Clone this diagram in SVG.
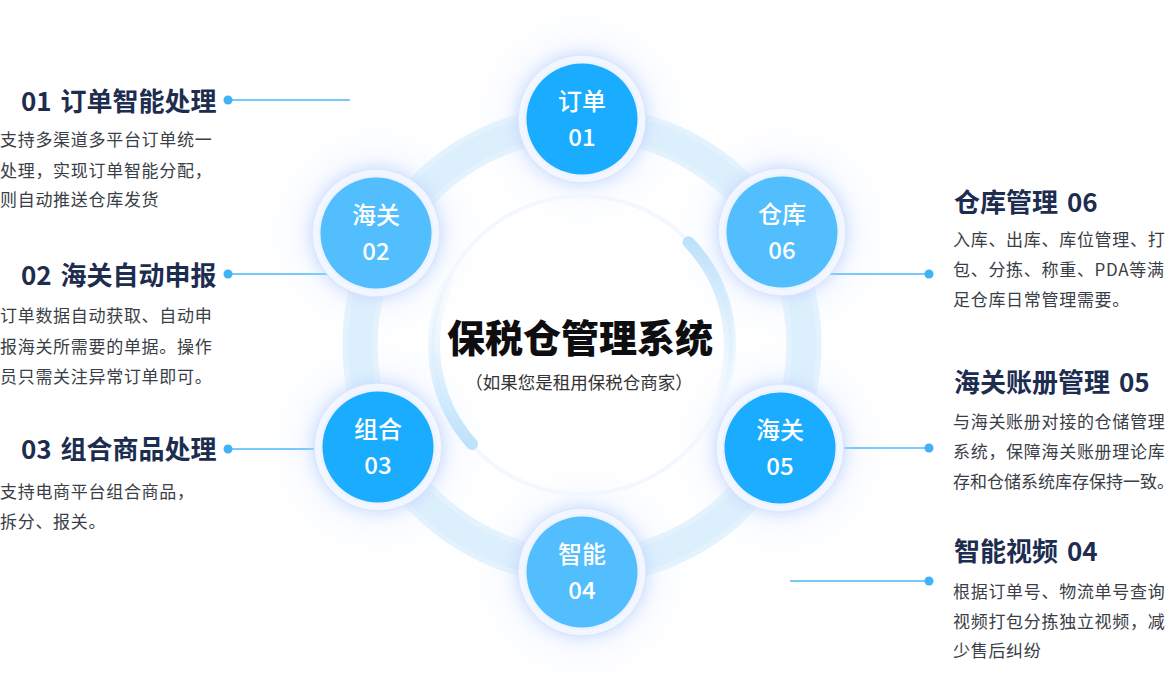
<svg xmlns="http://www.w3.org/2000/svg" width="1175" height="692" viewBox="0 0 1175 692">
<defs>
<style>
text{font-family:"Noto Sans CJK SC","Noto Sans",sans-serif;}
.ttl{font-size:26px;font-weight:700;fill:#1D2D4F;word-spacing:3px;}
.desc{font-size:17px;fill:#3A3E46;letter-spacing:0.7px;}
.nl{font-size:24px;fill:#FFFFFF;text-anchor:middle;font-weight:500;}
.dark{fill:#1AACFF;}
.light{fill:#52BEFE;}
.halo-ring{fill:#F2F6FF;stroke:#D9E3FB;stroke-width:1;}
.shadow{fill:#B7CFFF;filter:url(#blur);}
.lead{stroke:#4DB9F8;stroke-width:1.6;fill:none;}
.dot{fill:#3FB3F6;}
</style>
<filter id="blur" x="-50%" y="-50%" width="200%" height="200%"><feGaussianBlur stdDeviation="9"/></filter>
<radialGradient id="halo">
<stop offset="0" stop-color="#E6F0FF" stop-opacity="0.9"/>
<stop offset="0.55" stop-color="#EEF4FF" stop-opacity="0.55"/>
<stop offset="1" stop-color="#FFFFFF" stop-opacity="0"/>
</radialGradient>
<radialGradient id="innerband">
<stop offset="0.82" stop-color="#DCE7FE"/>
<stop offset="1" stop-color="#EEF3FF"/>
</radialGradient>
<linearGradient id="arcR" gradientUnits="userSpaceOnUse" x1="0" y1="242" x2="0" y2="410">
<stop offset="0" stop-color="#BDE2FB"/>
<stop offset="1" stop-color="#DDEFFD" stop-opacity="0.1"/>
</linearGradient>
<linearGradient id="arcL" gradientUnits="userSpaceOnUse" x1="0" y1="444" x2="0" y2="280">
<stop offset="0" stop-color="#BDE2FB"/>
<stop offset="1" stop-color="#DDEFFD" stop-opacity="0.1"/>
</linearGradient>
</defs>
<rect width="1175" height="692" fill="#FFFFFF"/>

<g id="background">
<circle cx="582" cy="119" r="125" fill="url(#halo)"/>
<circle cx="376" cy="232" r="125" fill="url(#halo)"/>
<circle cx="782" cy="232" r="125" fill="url(#halo)"/>
<circle cx="378" cy="447" r="125" fill="url(#halo)"/>
<circle cx="780" cy="448" r="125" fill="url(#halo)"/>
<circle cx="582" cy="572" r="125" fill="url(#halo)"/>
<circle cx="582" cy="345" r="222" fill="none" stroke="#E3F2FD" stroke-width="35"/>
<circle cx="582" cy="345" r="222" fill="none" stroke="#DCEFFC" stroke-width="24"/>
<circle cx="582" cy="345" r="149" fill="none" stroke="#F2F8FE" stroke-width="4"/>
<path d="M688.5 242.2 A148 148 0 0 1 716.1 407.5" fill="none" stroke="url(#arcR)" stroke-width="12" stroke-linecap="round"/>
<path d="M472 444 A148 148 0 0 1 447.9 282.5" fill="none" stroke="url(#arcL)" stroke-width="12" stroke-linecap="round"/>
</g>

<g id="connectors">
<line class="lead" x1="228" y1="100" x2="350" y2="100"/>
<circle class="dot" cx="228" cy="100" r="4.5"/>
<line class="lead" x1="228" y1="274" x2="332" y2="274"/>
<circle class="dot" cx="228" cy="274" r="4.5"/>
<line class="lead" x1="228" y1="449" x2="330" y2="449"/>
<circle class="dot" cx="228" cy="449" r="4.5"/>
<line class="lead" x1="826" y1="274" x2="929" y2="274"/>
<circle class="dot" cx="929" cy="274" r="4.5"/>
<line class="lead" x1="836" y1="448" x2="929" y2="448"/>
<circle class="dot" cx="929" cy="448" r="4.5"/>
<line class="lead" x1="790" y1="581" x2="929" y2="581"/>
<circle class="dot" cx="929" cy="581" r="4.5"/>
</g>

<g id="node-01" transform="translate(582,119)">
<circle class="shadow" r="62"/>
<circle class="halo-ring" r="64"/>
<circle r="58" fill="url(#innerband)"/>
<circle class="dark" r="55.5"/>
<text class="nl" y="-9">订单</text>
<text class="nl" y="27">01</text>
</g>
<g id="node-02" transform="translate(376,233)">
<circle class="shadow" r="62"/>
<circle class="halo-ring" r="64"/>
<circle r="58" fill="url(#innerband)"/>
<circle class="light" r="55.5"/>
<text class="nl" y="-9">海关</text>
<text class="nl" y="27">02</text>
</g>
<g id="node-06" transform="translate(782,232)">
<circle class="shadow" r="62"/>
<circle class="halo-ring" r="64"/>
<circle r="58" fill="url(#innerband)"/>
<circle class="light" r="55.5"/>
<text class="nl" y="-9">仓库</text>
<text class="nl" y="27">06</text>
</g>
<g id="node-03" transform="translate(378,447)">
<circle class="shadow" r="62"/>
<circle class="halo-ring" r="64"/>
<circle r="58" fill="url(#innerband)"/>
<circle class="dark" r="55.5"/>
<text class="nl" y="-9">组合</text>
<text class="nl" y="27">03</text>
</g>
<g id="node-05" transform="translate(780,448)">
<circle class="shadow" r="62"/>
<circle class="halo-ring" r="64"/>
<circle r="58" fill="url(#innerband)"/>
<circle class="dark" r="55.5"/>
<text class="nl" y="-9">海关</text>
<text class="nl" y="27">05</text>
</g>
<g id="node-04" transform="translate(582,572)">
<circle class="shadow" r="62"/>
<circle class="halo-ring" r="64"/>
<circle r="58" fill="url(#innerband)"/>
<circle class="light" r="55.5"/>
<text class="nl" y="-9">智能</text>
<text class="nl" y="27">04</text>
</g>

<g id="center">
<text x="580" y="352" text-anchor="middle" font-size="38" font-weight="900" fill="#0E0E10">保税仓管理系统</text>
<text x="579" y="389" text-anchor="middle" font-size="17.5" fill="#333333">（如果您是租用保税仓商家）</text>
</g>

<g id="item-01">
<text class="ttl" x="21" y="111">01 订单智能处理</text>
<text class="desc" x="0" y="146">支持多渠道多平台订单统一</text>
<text class="desc" x="0" y="177">处理，实现订单智能分配，</text>
<text class="desc" x="0" y="206">则自动推送仓库发货</text>
</g>
<g id="item-02">
<text class="ttl" x="21" y="285">02 海关自动申报</text>
<text class="desc" x="0" y="322">订单数据自动获取、自动申</text>
<text class="desc" x="0" y="353">报海关所需要的单据。操作</text>
<text class="desc" x="0" y="383">员只需关注异常订单即可。</text>
</g>
<g id="item-03">
<text class="ttl" x="21" y="459">03 组合商品处理</text>
<text class="desc" x="0" y="498">支持电商平台组合商品，</text>
<text class="desc" x="0" y="528">拆分、报关。</text>
</g>
<g id="item-06">
<text class="ttl" x="954" y="212">仓库管理 06</text>
<text class="desc" x="953" y="246">入库、出库、库位管理、打</text>
<text class="desc" x="953" y="276">包、分拣、称重、PDA等满</text>
<text class="desc" x="953" y="306">足仓库日常管理需要。</text>
</g>
<g id="item-05">
<text class="ttl" x="954" y="392">海关账册管理 05</text>
<text class="desc" x="953" y="428">与海关账册对接的仓储管理</text>
<text class="desc" x="953" y="458">系统，保障海关账册理论库</text>
<text class="desc" x="953" y="488" style="letter-spacing:0">存和仓储系统库存保持一致。</text>
</g>
<g id="item-04">
<text class="ttl" x="954" y="561">智能视频 04</text>
<text class="desc" x="953" y="598">根据订单号、物流单号查询</text>
<text class="desc" x="953" y="628">视频打包分拣独立视频，减</text>
<text class="desc" x="953" y="657">少售后纠纷</text>
</g>
</svg>
